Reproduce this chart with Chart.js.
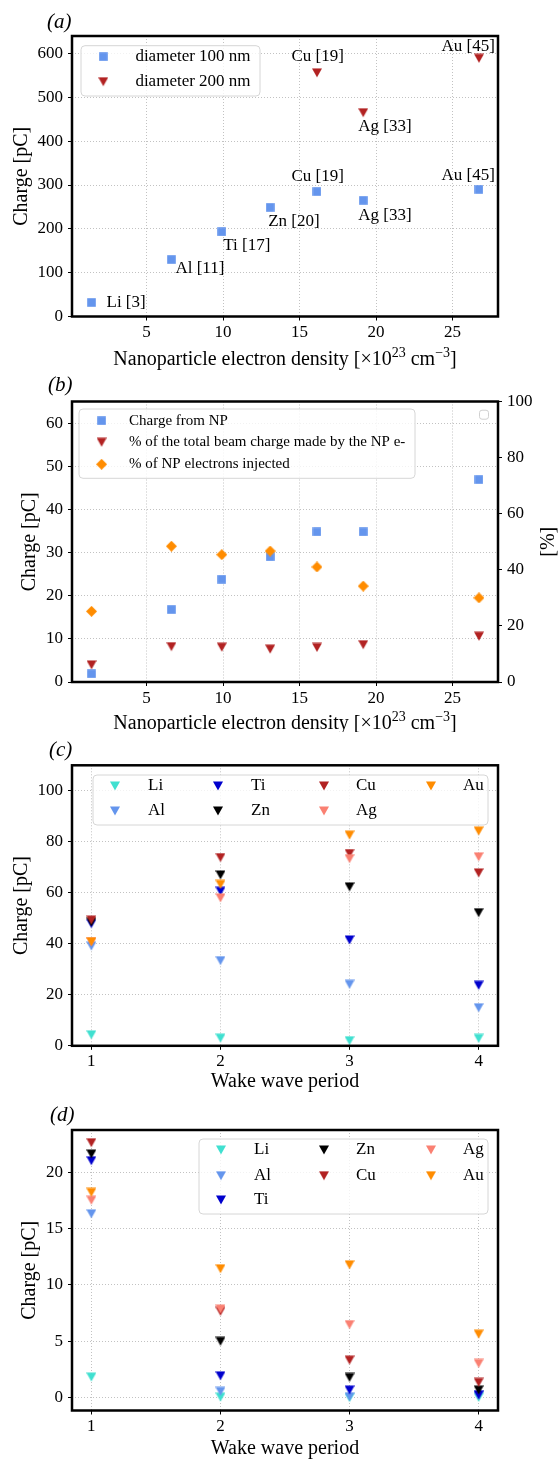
<!DOCTYPE html>
<html>
<head>
<meta charset="utf-8">
<script src="https://cdn.jsdelivr.net/npm/chart.js@4.4.1/dist/chart.umd.min.js"></script>
<style>
  html, body { margin: 0; padding: 0; background: #fff; }
  body { width: 558px; height: 1459px; position: relative; overflow: hidden; }
  canvas { position: absolute; left: 0; }
</style>
</head>
<body>
<canvas id="chart-a" width="558" height="372" style="top:0px"></canvas>
<canvas id="chart-b" width="558" height="360" style="top:372px"></canvas>
<canvas id="chart-c" width="558" height="362" style="top:732px"></canvas>
<canvas id="chart-d" width="558" height="365" style="top:1094px"></canvas>
<script>
// ---- data ----
const elements = ['Li', 'Al', 'Ti', 'Zn', 'Cu', 'Ag', 'Au'];
const refLabels = ['Li [3]', 'Al [11]', 'Ti [17]', 'Zn [20]', 'Cu [19]', 'Ag [33]', 'Au [45]'];
const electronDensity = [1.41, 6.63, 9.92, 13.08, 16.14, 19.16, 26.72];

// (a)
const charge100 = [32, 130, 193, 249, 285, 265, 290];
const density200 = [16.14, 19.16, 26.72];
const charge200 = [556, 465, 589];
const labels200 = ['Cu [19]', 'Ag [33]', 'Au [45]'];

// (b)
const chargeFromNP = [1.9, 16.8, 23.8, 29.0, 34.8, 34.8, 46.9];
const beamChargePct = [6.1, 12.6, 12.4, 11.7, 12.3, 13.3, 16.3];
const injectedPct = [25.2, 48.4, 45.4, 46.7, 41.0, 34.2, 30.0];

// (c) and (d): wake wave periods
const wavePeriods = [1, 2, 3, 4];
const cLi = [4.3, 3.0, 2.0, 2.9];
const cAl = [39.1, 33.4, 24.1, 14.9];
const cTi = [47.9, 60.6, 41.5, 23.7];
const cZn = [48.5, 67.0, 62.3, 52.2];
const cCu = [49.3, 73.8, 75.4, 67.8];
const cAg = [40.8, 58.0, 73.4, 74.1];
const cAu = [40.8, 63.3, 82.6, 84.2];

const dLi = [1.83, 0.05, 0.02, 0.03];
const dAl = [16.3, 0.56, 0.09, 0.2];
const dTi = [21.0, 1.94, 0.68, 0.24];
const dZn = [21.6, 5.0, 1.8, 0.68];
const dCu = [22.6, 7.66, 3.33, 1.36];
const dAg = [17.5, 7.86, 6.48, 3.04];
const dAu = [18.2, 11.43, 11.78, 5.63];

// ---- style ----
const SERIF = '"Liberation Serif", "Times New Roman", serif';
const elementColors = ['#40E0D0', '#6495ED', '#0000CD', '#000000', '#B22222', '#FA8072', '#FF8C00'];
Chart.defaults.font.family = SERIF;
Chart.defaults.color = '#000';

function makeMarker(shape, color) {
    const c = document.createElement('canvas');
    const s = shape === 'diamond' ? 11 : (shape === 'square' ? 9 : 10);
    c.width = s; c.height = s;
    const g = c.getContext('2d');
    g.fillStyle = color;
    g.beginPath();
    if (shape === 'square') {
        g.rect(0.2, 0.2, s - 0.4, s - 0.4);
    } else if (shape === 'tri') {
        g.moveTo(0, 0.4); g.lineTo(s, 0.4); g.lineTo(s / 2, s - 0.4); g.closePath();
    } else {
        g.moveTo(s / 2, 0); g.lineTo(s, s / 2); g.lineTo(s / 2, s); g.lineTo(0, s / 2); g.closePath();
    }
    g.fill();
    return c;
}

function points(xs, ys) {
    return ys.map((y, i) => ({ x: xs[i], y: y }));
}

// later datasets are painted on top, as in matplotlib
function dataset(label, xs, ys, marker, index, axis) {
    return {
        label: label,
        data: points(xs, ys),
        pointStyle: marker,
        pointRadius: 5,
        pointHoverRadius: 5,
        order: -index,
        yAxisID: axis || 'y'
    };
}

function gridOpts(onArea) {
    return {
        drawOnChartArea: onArea,
        color: 'rgba(170,170,170,0.9)',
        lineWidth: 0.8,
        tickBorderDash: [],
        tickColor: '#000',
        tickWidth: 1,
        tickLength: 4
    };
}

function xAxis(min, max, step, boxHeight) {
    return {
        type: 'linear', position: 'bottom', min: min, max: max,
        ticks: { stepSize: step, includeBounds: false, font: { size: 17 }, padding: 2 },
        grid: gridOpts(true),
        border: { display: false, dash: [1, 2] },
        afterFit: (s) => { s.height = boxHeight; }
    };
}

function yAxis(min, max, step, titlePad, position, withGrid) {
    return {
        type: 'linear', position: position || 'left', min: min, max: max,
        ticks: { stepSize: step, includeBounds: false, font: { size: 17 }, padding: 5 },
        grid: gridOpts(withGrid !== false),
        border: { display: false, dash: [1, 2] },
        title: titlePad === null ? { display: false } : {
            display: true, text: 'Charge [pC]', font: { size: 20 },
            padding: { top: titlePad, bottom: 0 }
        },
        afterFit: (s) => { s.width = position === 'right' ? 60 : 72; }
    };
}

function roundBox(ctx, x, y, w, h, r) {
    ctx.beginPath();
    ctx.moveTo(x + r, y);
    ctx.lineTo(x + w - r, y); ctx.quadraticCurveTo(x + w, y, x + w, y + r);
    ctx.lineTo(x + w, y + h - r); ctx.quadraticCurveTo(x + w, y + h, x + w - r, y + h);
    ctx.lineTo(x + r, y + h); ctx.quadraticCurveTo(x, y + h, x, y + h - r);
    ctx.lineTo(x, y + r); ctx.quadraticCurveTo(x, y, x + r, y);
    ctx.closePath();
}

// legend drawn inside the axes, filled column by column like matplotlib
function drawLegend(chart, spec) {
    const ctx = chart.ctx, a = chart.chartArea;
    const ox = a.left, oy = a.top;
    const n = chart.data.datasets.length;
    const ncol = spec.markerX.length;
    const base = Math.floor(n / ncol), large = n % ncol;
    const perCol = [];
    for (let c = 0; c < ncol; c++) perCol.push(c < large ? base + 1 : base);
    ctx.save();
    roundBox(ctx, ox + spec.box[0], oy + spec.box[1], spec.box[2], spec.box[3], 4);
    ctx.fillStyle = 'rgba(255,255,255,0.8)';
    ctx.fill();
    ctx.strokeStyle = '#d6d6d6';
    ctx.lineWidth = 1;
    ctx.stroke();
    ctx.font = spec.fontSize + 'px ' + SERIF;
    ctx.textBaseline = 'middle';
    ctx.textAlign = 'left';
    ctx.fillStyle = '#000';
    let i = 0;
    perCol.forEach((count, col) => {
        for (let row = 0; row < count; row++, i++) {
            const ds = chart.data.datasets[i];
            const mx = ox + spec.markerX[col], my = oy + spec.rows[row];
            const m = ds.pointStyle;
            ctx.drawImage(m, mx - m.width / 2, my - m.height / 2);
            ctx.fillText(ds.label, ox + spec.textX[col], my);
        }
    });
    ctx.restore();
}

function drawFrame(chart) {
    const ctx = chart.ctx, a = chart.chartArea;
    ctx.save();
    ctx.strokeStyle = '#000';
    ctx.lineWidth = 2.5;
    ctx.strokeRect(a.left, a.top, a.right - a.left, a.bottom - a.top);
    ctx.restore();
}

function drawPanelLabel(chart, text, x, y) {
    const ctx = chart.ctx;
    ctx.save();
    ctx.font = 'italic 21px ' + SERIF;
    ctx.fillStyle = '#000';
    ctx.textBaseline = 'middle';
    ctx.textAlign = 'left';
    ctx.fillText(text, x, y);
    ctx.restore();
}

function drawPlainTitle(chart, text, y) {
    const ctx = chart.ctx, a = chart.chartArea;
    ctx.save();
    ctx.font = '20px ' + SERIF;
    ctx.fillStyle = '#000';
    ctx.textAlign = 'center';
    ctx.textBaseline = 'middle';
    ctx.fillText(text, (a.left + a.right) / 2, y);
    ctx.restore();
}

function drawDensityTitle(chart, y) {
    const ctx = chart.ctx, a = chart.chartArea;
    const parts = [['Nanoparticle electron density [\u00d710', 0], ['23', 1], [' cm', 0], ['\u22123', 1], [']', 0]];
    ctx.save();
    ctx.fillStyle = '#000';
    ctx.textBaseline = 'alphabetic';
    ctx.textAlign = 'left';
    let total = 0;
    parts.forEach(p => {
        ctx.font = (p[1] ? '14px ' : '20px ') + SERIF;
        total += ctx.measureText(p[0]).width;
    });
    let x = (a.left + a.right) / 2 - total / 2;
    const base = y + 7;
    parts.forEach(p => {
        ctx.font = (p[1] ? '14px ' : '20px ') + SERIF;
        ctx.fillText(p[0], x, p[1] ? base - 8 : base);
        x += ctx.measureText(p[0]).width;
    });
    ctx.restore();
}

const baseOptions = {
    responsive: false,
    devicePixelRatio: 1,
    animation: false,
    events: [],
    plugins: { legend: { display: false }, tooltip: { enabled: false } }
};

// ---- (a) ----
const markA = [makeMarker('square', '#6495ED'), makeMarker('tri', '#B22222')];
// label offsets from each point: [dx, dy, align]
const offsets100 = [[15, 0, 'left'], [4, 9, 'left'], [1.5, 14, 'left'], [-2, 14, 'left'], [0.7, -15, 'center'], [-5, 15, 'left'], [16, -14, 'right']];
const offsets200 = [[0.7, -16, 'center'], [-5, 14, 'left'], [16, -12, 'right']];

new Chart(document.getElementById('chart-a'), {
    type: 'scatter',
    data: {
        datasets: [
            dataset('diameter 100 nm', electronDensity, charge100, markA[0], 0),
            dataset('diameter 200 nm', density200, charge200, markA[1], 1)
        ]
    },
    options: Object.assign({}, baseOptions, {
        layout: { padding: { top: 36, right: 60, left: 0, bottom: 0 } },
        scales: {
            x: xAxis(0.135, 27.965, 5, 372 - 316.5),
            y: yAxis(0, 640, 100, 10)
        }
    }),
    plugins: [{
        id: 'decorA',
        afterDraw(chart) {
            const ctx = chart.ctx;
            drawFrame(chart);
            ctx.save();
            ctx.font = '17px ' + SERIF;
            ctx.fillStyle = '#000';
            ctx.textBaseline = 'middle';
            const lab = [[refLabels, offsets100], [labels200, offsets200]];
            lab.forEach((l, di) => {
                chart.getDatasetMeta(di).data.forEach((pt, j) => {
                    const o = l[1][j];
                    ctx.textAlign = o[2];
                    ctx.fillText(l[0][j], pt.x + o[0], pt.y + o[1]);
                });
            });
            ctx.restore();
            drawLegend(chart, { box: [9, 9.7, 179, 50.3], markerX: [31.3], textX: [63.4], rows: [20.7, 45.7], fontSize: 17 });
            drawPanelLabel(chart, '(a)', 47, 22);
            drawDensityTitle(chart, 357.7);
        }
    }]
});

// ---- (b) ----
const markB = [makeMarker('square', '#6495ED'), makeMarker('tri', '#B22222'), makeMarker('diamond', '#FF8C00')];
new Chart(document.getElementById('chart-b'), {
    type: 'scatter',
    data: {
        datasets: [
            dataset('Charge from NP', electronDensity, chargeFromNP, markB[0], 0),
            dataset('% of the total beam charge made by the NP e-', electronDensity, beamChargePct, markB[1], 1, 'y2'),
            dataset('% of NP electrons injected', electronDensity, injectedPct, markB[2], 2, 'y2')
        ]
    },
    options: Object.assign({}, baseOptions, {
        layout: { padding: { top: 29.5, right: 0, left: 0, bottom: 0 } },
        scales: {
            x: xAxis(0.135, 27.965, 5, 360 - 310),
            y: yAxis(0, 65, 10, 18),
            y2: yAxis(0, 100, 20, null, 'right', false)
        }
    }),
    plugins: [{
        id: 'decorB',
        afterDraw(chart) {
            const ctx = chart.ctx, a = chart.chartArea;
            drawFrame(chart);
            drawLegend(chart, { box: [7, 7.5, 336, 69.3], markerX: [29.6], textX: [57], rows: [19.2, 40.8, 62.8], fontSize: 15 });
            // empty legend of the twin axis
            ctx.save();
            roundBox(ctx, a.left + 407.5, a.top + 8.7, 9, 9, 2.5);
            ctx.fillStyle = 'rgba(255,255,255,0.8)';
            ctx.fill();
            ctx.strokeStyle = '#d0d0d0';
            ctx.lineWidth = 1;
            ctx.stroke();
            // right axis title
            ctx.translate(549, (a.top + a.bottom) / 2);
            ctx.rotate(-Math.PI / 2);
            ctx.font = '20px ' + SERIF;
            ctx.fillStyle = '#000';
            ctx.textAlign = 'center';
            ctx.textBaseline = 'middle';
            ctx.fillText('[%]', 0, 0);
            ctx.restore();
            drawPanelLabel(chart, '(b)', 48, 13);
            drawDensityTitle(chart, 349.7);
        }
    }]
});

// ---- (c) and (d) ----
function periodSets(series) {
    return series.map((ys, i) => dataset(elements[i], wavePeriods, ys, makeMarker('tri', elementColors[i]), i));
}

new Chart(document.getElementById('chart-c'), {
    type: 'scatter',
    data: { datasets: periodSets([cLi, cAl, cTi, cZn, cCu, cAg, cAu]) },
    options: Object.assign({}, baseOptions, {
        layout: { padding: { top: 33.3, right: 60, left: 0, bottom: 0 } },
        scales: {
            x: xAxis(0.85, 4.15, 1, 362 - 313.8),
            y: yAxis(0, 110, 20, 10)
        }
    }),
    plugins: [{
        id: 'decorC',
        afterDraw(chart) {
            drawFrame(chart);
            drawLegend(chart, { box: [21, 9.7, 395, 50], markerX: [43, 146, 252, 359], textX: [76, 179, 284, 391], rows: [20.7, 45.7], fontSize: 17 });
            drawPanelLabel(chart, '(c)', 49, 18);
            drawPlainTitle(chart, 'Wake wave period', 349.7);
        }
    }]
});

new Chart(document.getElementById('chart-d'), {
    type: 'scatter',
    data: { datasets: periodSets([dLi, dAl, dTi, dZn, dCu, dAg, dAu]) },
    options: Object.assign({}, baseOptions, {
        layout: { padding: { top: 36, right: 60, left: 0, bottom: 0 } },
        scales: {
            x: xAxis(0.85, 4.15, 1, 365 - 316.5),
            y: yAxis(-1.13, 23.73, 5, 18)
        }
    }),
    plugins: [{
        id: 'decorD',
        afterDraw(chart) {
            drawFrame(chart);
            drawLegend(chart, { box: [127, 9, 289, 75], markerX: [149, 252, 359], textX: [182, 284, 391], rows: [20, 45.7, 70], fontSize: 17 });
            drawPanelLabel(chart, '(d)', 50, 21);
            drawPlainTitle(chart, 'Wake wave period', 355);
        }
    }]
});
</script>
</body>
</html>
